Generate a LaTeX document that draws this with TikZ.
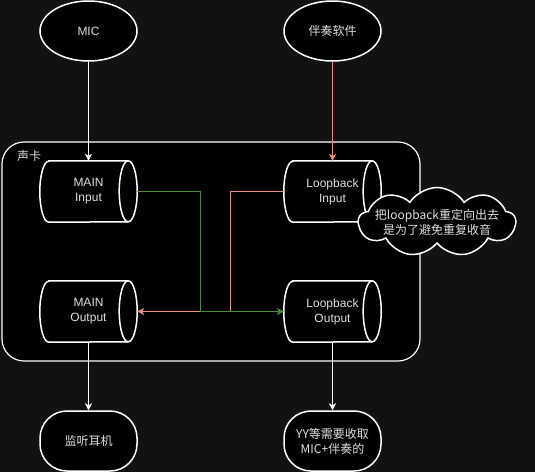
\documentclass[tikz,border=0pt]{standalone}
\usepackage{fontspec}
\setmainfont{Liberation Sans}
\newfontfamily\cjk{Noto Sans CJK SC}
\usetikzlibrary{shapes.geometric,shapes.symbols,arrows.meta}
\pgfdeclarelayer{back}
\pgfdeclarelayer{mid}
\pgfsetlayers{back,mid,main}
\definecolor{bg}{HTML}{121212}
\definecolor{txt}{HTML}{E0E0E0}
\definecolor{gline}{HTML}{4E8A3C}
\definecolor{rline}{HTML}{EA8A80}
\newcommand\cylshape[1]{%
  \begin{pgfonlayer}{mid}
  \draw[cylline] ([xshift=9pt]#1.north west) -- ([xshift=-9pt]#1.north east)
     arc[start angle=90,end angle=-90,x radius=9pt,y radius=30.5pt]
     -- ([xshift=9pt]#1.south west)
     arc[start angle=270,end angle=90,x radius=9pt,y radius=30.5pt] -- cycle;
  \draw[cylline,fill=none] ([xshift=-9pt]#1.north east)
     arc[start angle=90,end angle=270,x radius=9pt,y radius=30.5pt];
  \end{pgfonlayer}}
\begin{document}
\begin{tikzpicture}[x=1pt,y=-1pt,
  every node/.style={text=txt,font=\fontsize{12}{15}\selectfont,align=center,inner sep=0pt},
  shapeline/.style={draw=white,line width=1.5pt,fill=black},
  oval/.style={shapeline,ellipse,minimum width=97pt,minimum height=60pt},
  term/.style={shapeline,rectangle,rounded corners=27pt,minimum width=97pt,minimum height=60pt},
  cylbox/.style={rectangle,minimum width=97pt,minimum height=61pt},
  cylline/.style={draw=white,line width=1.5pt,fill=black},
  cjkfont/.style={font=\cjk\fontsize{12}{15}\selectfont},
  conn/.style={line width=0.9pt,-{Stealth[length=7pt,width=7pt,inset=2pt]}},
  ]
\useasboundingbox (0,0) rectangle (535,472);
\begin{pgfonlayer}{back}
  \fill[bg] (0,0) rectangle (535,472);
  \node[shapeline,line width=1.2pt,rounded corners=22pt,minimum width=418pt,minimum height=219pt] (card) at (211,251.5) {};
\end{pgfonlayer}
\node[cjkfont,anchor=west] (cardlabel) at (17,156) {声卡};

\node[oval] (mic) at (88.5,31) {MIC};
\node[oval,cjkfont] (acc) at (332.5,31) {伴奏软件};

\node[cylbox] (mi) at (88.5,191.5) {MAIN\\Input};
\cylshape{mi}
\node[cylbox] (mo) at (88.5,311.5) {MAIN\\Output};
\cylshape{mo}
\node[cylbox] (li) at (332.5,191.5) {Loopback\\Input};
\cylshape{li}
\node[cylbox] (lo) at (332.5,311.5) {Loopback\\Output};
\cylshape{lo}

\node[term,cjkfont] (phone) at (88.5,441) {监听耳机};
\node[term,cjkfont] (yy) at (332.5,441) {YY等需要收取\\MIC+伴奏的};

\node[shapeline,cloud,cloud puffs=9,cloud puff arc=115,cloud ignores aspect,
      minimum width=157pt,minimum height=69pt,
      label={[cjkfont,align=center]center:把loopback重定向出去\\是为了避免重复收音}] (note) at (437,222) {};

\coordinate (gx) at (200,0);
\coordinate (rx) at (230,0);

\draw[conn,white] (mic.south) -- (mi.north);
\draw[conn,rline] (acc.south) -- (li.north);
\draw[conn,white] (mo.south) -- (phone.north);
\draw[conn,white] (lo.south) -- (yy.north);
\draw[conn,rline] (li.west) -| (rx |- mo.east) -- (mo.east);
\draw[conn,gline] (mi.east) -| (gx |- lo.west) -- (lo.west);
\end{tikzpicture}
\end{document}
